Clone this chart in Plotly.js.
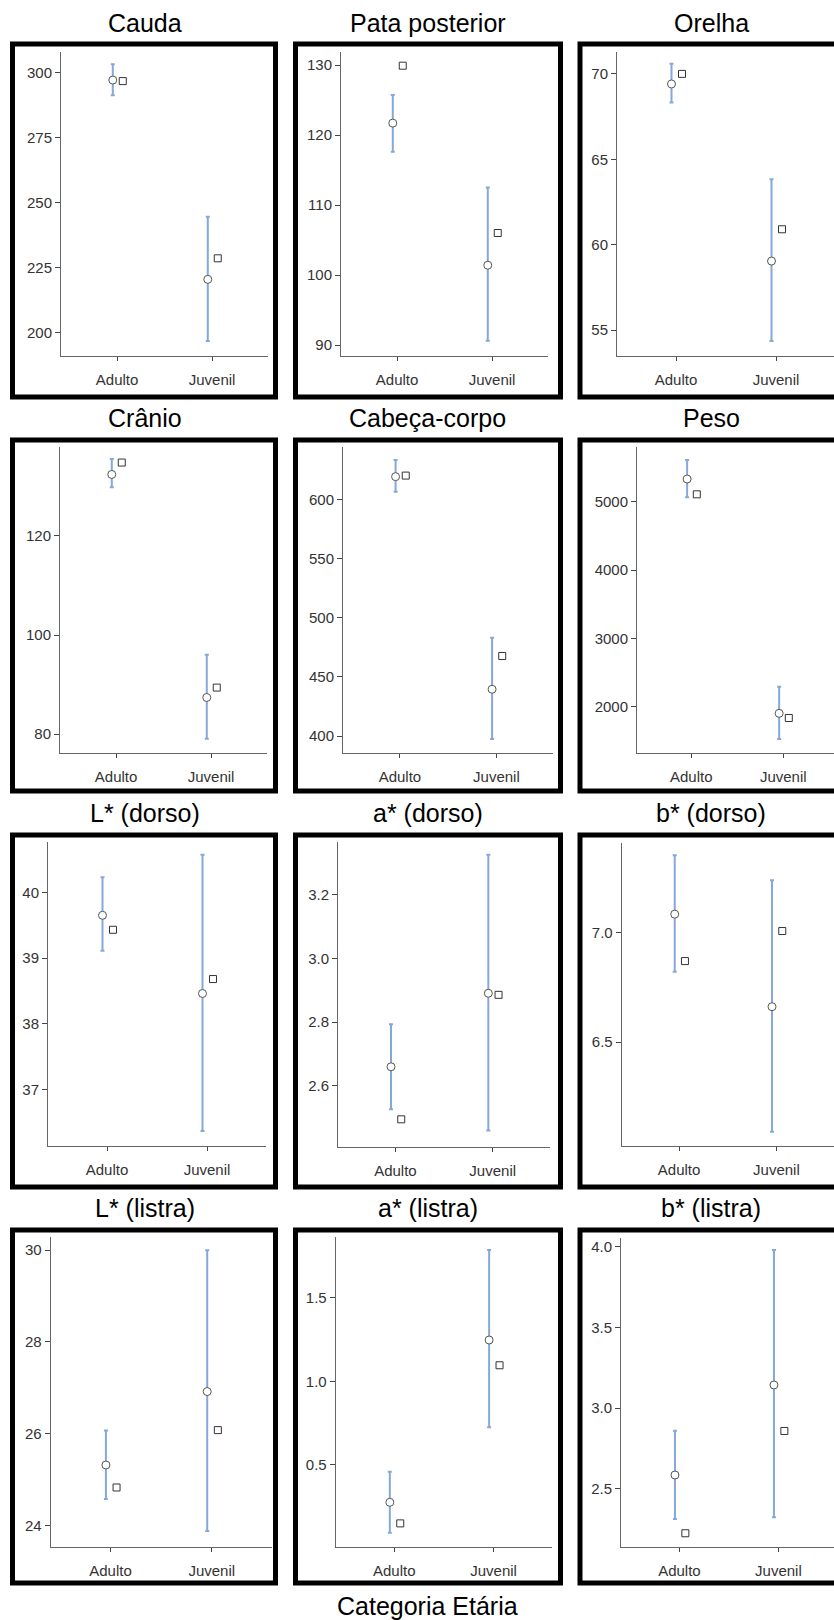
<!DOCTYPE html>
<html>
<head>
<meta charset="utf-8">
<script src="https://cdn.plot.ly/plotly-3.0.1.min.js"></script>
<style>
html,body{margin:0;padding:0;background:#fff;}
#chart{width:834px;height:1620px;}
</style>
</head>
<body>
<div id="chart"></div>
<script>
// ---------- DATA ----------
const categories = ['Adulto', 'Juvenil'];
const panelTitles = ['Cauda', 'Pata posterior', 'Orelha', 'Crânio', 'Cabeça-corpo', 'Peso',
  'L* (dorso)', 'a* (dorso)', 'b* (dorso)', 'L* (listra)', 'a* (listra)', 'b* (listra)'];
const xAxisTitle = 'Categoria Etária';

// circle = mean, with interval [ciLower, ciUpper]; square = second estimate
const circleMean = [
  [297.2, 220.5], [121.7, 101.4], [69.41, 59.04],
  [132.4, 87.4], [619.1, 439.5], [5332, 1903],
  [39.65, 38.46], [2.660, 2.891], [7.083, 6.661],
  [25.32, 26.92], [0.277, 1.247], [2.585, 3.143]
];
const ciLower = [
  [291.4, 196.8], [117.6, 90.6], [68.32, 54.36],
  [129.8, 79.05], [606.4, 397.5], [5064, 1527],
  [39.11, 36.37], [2.527, 2.460], [6.820, 6.091],
  [24.58, 23.88], [0.095, 0.725], [2.312, 2.323]
];
const ciUpper = [
  [303.3, 244.6], [125.7, 112.5], [70.59, 63.83],
  [135.5, 96.0], [633.2, 483.1], [5610, 2293],
  [40.23, 40.57], [2.794, 3.326], [7.352, 7.238],
  [26.07, 30.0], [0.460, 1.785], [2.860, 3.980]
];
const squareValue = [
  [296.8, 228.6], [129.9, 106.0], [70.0, 60.9],
  [134.8, 89.4], [620.0, 467.6], [5108, 1835],
  [39.43, 38.68], [2.495, 2.886], [6.869, 7.006],
  [24.83, 26.08], [0.151, 1.096], [2.224, 2.858]
];
const yTickValues = [
  [200, 225, 250, 275, 300], [90, 100, 110, 120, 130], [55, 60, 65, 70],
  [80, 100, 120], [400, 450, 500, 550, 600], [2000, 3000, 4000, 5000],
  [37, 38, 39, 40], [2.6, 2.8, 3.0, 3.2], [6.5, 7.0],
  [24, 26, 28, 30], [0.5, 1.0, 1.5], [2.5, 3.0, 3.5, 4.0]
];
const yTickLabels = [
  ['200', '225', '250', '275', '300'], ['90', '100', '110', '120', '130'], ['55', '60', '65', '70'],
  ['80', '100', '120'], ['400', '450', '500', '550', '600'], ['2000', '3000', '4000', '5000'],
  ['37', '38', '39', '40'], ['2.6', '2.8', '3.0', '3.2'], ['6.5', '7.0'],
  ['24', '26', '28', '30'], ['0.5', '1.0', '1.5'], ['2.5', '3.0', '3.5', '4.0']
];

// ---------- LAYOUT (positions in px) ----------
const W = 834, H = 1620;
// [y-axis x px, category spacing px, plot top px, x-axis y px, yMin, yMax]
const panelBox = [
  [61, 95, 52, 356, 191, 308],
  [341, 95, 51.7, 356, 88.43, 131.9],
  [617, 100, 51.7, 356, 53.48, 71.3],
  [60, 95, 446.7, 753, 76.2, 138],
  [343, 96.5, 446.7, 753.3, 385.4, 644.4],
  [637, 92, 446.7, 753.3, 1318, 5805],
  [48, 100, 841.7, 1146, 36.14, 40.77],
  [338, 97.3, 841.7, 1146.7, 2.409, 3.367],
  [621.7, 97.3, 843.3, 1146, 6.026, 7.406],
  [50.7, 101.3, 1237.3, 1546.7, 23.54, 30.28],
  [335.7, 99.3, 1237.3, 1547.3, 0.008, 1.861],
  [621, 99, 1238.3, 1547.3, 2.137, 4.052]
];
const frameCols = [[12.5, 275.5], [295.5, 560.5], [580, 870]];
const frameRows = [[44, 397], [440, 791], [835, 1187], [1230, 1583]];
const titleX = [145, 427.5, 711];
const titleY = [23, 418, 813, 1208];
const circleOffset = -0.045, squareOffset = 0.06;

const px = v => v / W;
const py = v => 1 - v / H;

const traces = [];
const layout = {
  width: W, height: H,
  margin: {l: 0, r: 0, t: 0, b: 0},
  paper_bgcolor: '#fff', plot_bgcolor: '#fff',
  showlegend: false,
  font: {family: 'Liberation Sans, Arial, sans-serif', color: '#333'},
  shapes: [], annotations: []
};

panelTitles.forEach((title, i) => {
  const n = i + 1;
  const sfx = n === 1 ? '' : String(n);
  const [L, s, T, B, ylo, yhi] = panelBox[i];
  const R = Math.min(W, L + 2.18 * s);
  const xr = [-0.59, -0.59 + (R - L) / s];
  const xs = categories.map((c, k) => k);

  traces.push({
    type: 'scatter', mode: 'markers',
    x: xs.map(k => k + circleOffset), y: circleMean[i],
    xaxis: 'x' + sfx, yaxis: 'y' + sfx,
    marker: {symbol: 'circle', size: 8, color: '#fff', line: {color: '#555', width: 1}},
    error_y: {
      type: 'data', symmetric: false,
      array: circleMean[i].map((m, k) => ciUpper[i][k] - m),
      arrayminus: circleMean[i].map((m, k) => m - ciLower[i][k]),
      color: '#85a8da', thickness: 2, width: 2
    },
    hoverinfo: 'skip'
  });
  traces.push({
    type: 'scatter', mode: 'markers',
    x: xs.map(k => k + squareOffset), y: squareValue[i],
    xaxis: 'x' + sfx, yaxis: 'y' + sfx,
    marker: {symbol: 'square', size: 7, color: '#fff', line: {color: '#333', width: 1}},
    hoverinfo: 'skip'
  });

  layout['xaxis' + sfx] = {
    domain: [px(L), px(R)], anchor: 'y' + sfx, range: xr,
    tickvals: xs, ticktext: categories,
    showgrid: false, zeroline: false, showline: true, linecolor: '#666', linewidth: 1,
    ticks: 'outside', ticklen: 4, tickcolor: '#444', tickwidth: 1,
    ticklabelstandoff: 6,
    tickfont: {size: 15, color: '#333', family: 'Liberation Sans, Arial, sans-serif'},
    fixedrange: true
  };
  layout['yaxis' + sfx] = {
    domain: [py(B), py(T)], anchor: 'x' + sfx, range: [ylo, yhi],
    tickvals: yTickValues[i], ticktext: yTickLabels[i],
    showgrid: false, zeroline: false, showline: true, linecolor: '#666', linewidth: 1,
    ticks: 'outside', ticklen: 5, tickcolor: '#444', tickwidth: 1,
    tickfont: {size: 15, color: '#333', family: 'Liberation Sans, Arial, sans-serif'},
    fixedrange: true
  };

  const col = i % 3, row = Math.floor(i / 3);
  layout.shapes.push({
    type: 'rect', xref: 'paper', yref: 'paper',
    x0: px(frameCols[col][0]), x1: px(frameCols[col][1]),
    y0: py(frameRows[row][1]), y1: py(frameRows[row][0]),
    line: {color: '#000', width: 5}, fillcolor: 'rgba(0,0,0,0)', layer: 'above'
  });
  layout.annotations.push({
    text: title, xref: 'paper', yref: 'paper',
    x: px(titleX[col]), y: py(titleY[row]), xanchor: 'center', yanchor: 'middle',
    showarrow: false, font: {size: 25, color: '#000', family: 'Liberation Sans, Arial, sans-serif'}
  });
});

layout.annotations.push({
  text: xAxisTitle, xref: 'paper', yref: 'paper',
  x: px(427.5), y: py(1606), xanchor: 'center', yanchor: 'middle',
  showarrow: false, font: {size: 25, color: '#000', family: 'Liberation Sans, Arial, sans-serif'}
});

Plotly.newPlot('chart', traces, layout, {displayModeBar: false, staticPlot: true});
</script>
</body>
</html>
